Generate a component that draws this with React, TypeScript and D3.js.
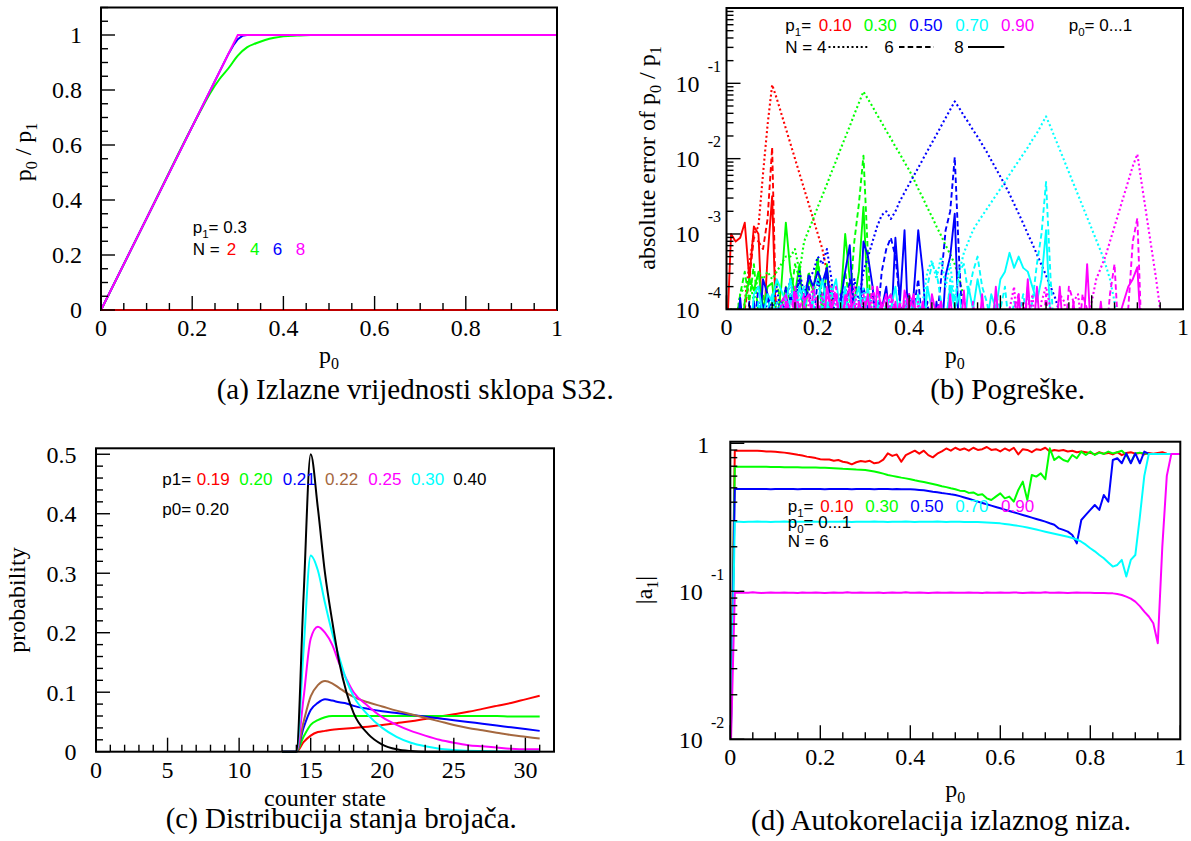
import React from 'react';
import * as d3 from 'd3';

const SERIF = "'Liberation Serif', 'Times New Roman', Times, serif";
const SANS = "'Liberation Sans', Arial, Helvetica, sans-serif";

const RED = '#ff0000';
const GREEN = '#00ff00';
const BLUE = '#0000ff';
const CYAN = '#00ffff';
const MAGENTA = '#ff00ff';
const BROWN = '#a5683f';
const BLACK = '#000000';

// ---------------- (a) Izlazne vrijednosti ----------------
const A_TICKS = [0, 0.2, 0.4, 0.6, 0.8, 1];
const A_TICK_LABELS = ['0', '0.2', '0.4', '0.6', '0.8', '1'];
const A_N_LABELS = ['2', '4', '6', '8'];
const A_N2_P0 = [0, 1];
const A_N2_RATIO = [0, 0];
const A_N4_P0 = [0, 0.1, 0.2, 0.22, 0.24, 0.26, 0.28, 0.3, 0.32, 0.34, 0.36, 0.38, 0.4, 0.43, 0.46, 0.5, 1];
const A_N4_RATIO = [0, 0.333, 0.667, 0.73, 0.79, 0.84, 0.88, 0.925, 0.955, 0.97, 0.982, 0.99, 0.995, 0.998, 1, 1, 1];
const A_N6_P0 = [0, 0.28, 0.29, 0.3, 0.31, 0.32, 1];
const A_N6_RATIO = [0, 0.933, 0.962, 0.985, 0.997, 1, 1];
const A_N8_P0 = [0, 0.3, 1];
const A_N8_RATIO = [0, 1, 1];

// ---------------- (b) Pogreske: log10(abs error), p0 = index * 0.01 ----------------
const B_STEP = 0.01;
const B_P1_LABELS = ['0.10', '0.30', '0.50', '0.70', '0.90'];
const B_N4_P10 = [-4.5, -4.5, -4.5, -4.5, -3.9, -3.4, -3.0, -2.9, -2.2, -1.55,
  -1.02, -1.2, -1.4, -1.6, -1.8, -2.0, -2.2, -2.4, -2.6, -2.8,
  -3.0, -3.2, -3.5, -3.8, -4.5];
const B_N6_P10 = [-4.5, -4.5, -4.2, -4.5, -4.0, -3.6, -3.05, -3.1, -3.2, -2.8, -1.85, -4.5, -4.5];
const B_N8_P10 = [-4.5, -3.0, -3.1, -3.05, -2.85, -3.6, -2.9, -3.0, -4.4, -3.3, -2.5, -4.5, -4.5];
const B_N4_P30 = [-4.5, -4.0, -4.2, -3.8, -3.7, -3.6, -3.9, -3.5, -3.6, -3.5,
  -3.6, -3.5, -3.4, -3.3, -3.3, -3.2, -3.5, -3.1, -2.95, -2.8,
  -2.64, -2.49, -2.34, -2.18, -2.03, -1.87, -1.72, -1.57, -1.41, -1.26,
  -1.11, -1.21, -1.31, -1.42, -1.52, -1.63, -1.73, -1.84, -1.94, -2.05,
  -2.15, -2.27, -2.4, -2.52, -2.65, -2.77, -2.9, -3.02, -3.15, -3.27,
  -3.4, -3.6, -3.85, -4.2, -4.5];
const B_N6_P30 = [-4.5, -4.5, -4.2, -3.8, -3.5, -3.9, -3.4, -4.1, -3.8, -4.5,
  -3.9, -3.6, -4.0, -3.7, -3.9, -3.4, -3.6, -4.0, -3.5, -3.8,
  -3.3, -3.9, -4.2, -3.7, -4.5, -3.8, -3.5, -3.9, -3.1, -2.6,
  -1.96, -3.3, -4.5];
const B_N8_P30 = [-4.5, -4.1, -4.5, -4.5, -3.9, -3.6, -3.75, -3.5, -4.0, -3.7,
  -3.65, -4.2, -3.7, -2.85, -3.5, -3.8, -3.4, -4.2, -3.6, -3.75,
  -3.35, -4.1, -3.4, -4.3, -4.5, -3.9, -3.0, -3.6, -3.9, -3.5,
  -2.64, -3.9, -4.5];
const B_N4_P50 = [-4.5, -4.5, -4.5, -4.5, -4.5, -4.5, -4.2, -3.9, -4.3, -3.8,
  -4.0, -3.7, -4.1, -3.9, -3.6, -4.0, -3.5, -3.8, -3.6, -3.5,
  -3.3, -3.4, -3.2, -3.6, -4.3, -4.0, -3.7, -4.1, -3.6, -3.9,
  -3.5, -3.3, -3.1, -2.9, -2.75, -2.7, -2.8, -2.7, -2.56, -2.45,
  -2.34, -2.23, -2.12, -2.01, -1.9, -1.79, -1.68, -1.57, -1.46, -1.35,
  -1.24, -1.33, -1.43, -1.52, -1.62, -1.71, -1.81, -1.91, -2.02, -2.13,
  -2.24, -2.35, -2.47, -2.6, -2.73, -2.86, -3.0, -3.13, -3.27, -3.41,
  -3.55, -3.7, -3.85, -4.05, -4.5];
const B_N6_P50 = [-4.5, -4.5, -4.5, -4.2, -4.5, -3.9, -4.3, -3.7, -4.0, -3.8,
  -4.4, -3.9, -4.1, -3.7, -4.3, -3.8, -3.6, -4.0, -3.7, -4.2,
  -3.6, -3.9, -3.5, -4.0, -4.4, -3.8, -4.1, -3.6, -3.9, -4.5,
  -3.7, -4.0, -3.8, -4.2, -3.5, -3.2, -3.05, -3.3, -3.9, -4.2,
  -3.8, -4.0, -3.6, -4.3, -3.9, -4.5, -4.2, -3.6, -2.95, -2.7,
  -1.98, -3.4, -4.5];
const B_N8_P50 = [-4.5, -4.5, -4.5, -3.85, -4.5, -4.5, -3.9, -4.5, -3.6, -3.8,
  -4.2, -4.5, -3.9, -4.4, -3.8, -4.0, -3.7, -3.9, -3.55, -3.7,
  -3.5, -3.65, -3.45, -4.1, -4.5, -3.9, -3.5, -3.15, -4.2, -4.4,
  -3.1, -3.3, -3.7, -4.4, -4.0, -3.7, -4.3, -3.05, -3.9, -2.95,
  -4.5, -3.8, -2.95, -3.5, -4.5, -4.5, -3.9, -4.5, -3.55, -3.3,
  -2.73, -4.5];
const B_N4_P70 = [-4.5, -4.5, -4.5, -4.5, -4.5, -4.5, -4.5, -4.5, -4.5, -4.5,
  -4.2, -3.9, -4.5, -3.8, -4.0, -4.5, -3.7, -3.9, -4.4, -3.8,
  -3.6, -4.0, -3.7, -4.5, -3.9, -4.2, -3.8, -4.5, -3.9, -4.1,
  -3.7, -4.5, -4.0, -3.8, -4.3, -4.5, -3.9, -4.1, -4.5, -3.8,
  -4.2, -4.5, -4.5, -3.9, -3.5, -3.35, -3.6, -3.3, -3.7, -3.4,
  -3.9, -3.5, -3.25, -3.1, -2.95, -2.85, -2.76, -2.67, -2.58, -2.49,
  -2.4, -2.31, -2.21, -2.12, -2.03, -1.94, -1.85, -1.75, -1.66, -1.55,
  -1.44, -1.58, -1.73, -1.88, -2.03, -2.18, -2.33, -2.48, -2.63, -2.78,
  -2.93, -3.08, -3.23, -3.4, -3.6, -3.9, -4.5];
const B_N6_P70 = [-4.5, -4.5, -4.5, -4.5, -4.5, -4.2, -4.5, -3.9, -4.3, -4.0,
  -3.8, -4.2, -3.9, -4.4, -3.8, -4.1, -3.9, -3.7, -4.2, -3.9,
  -4.5, -3.8, -4.0, -3.7, -4.3, -3.9, -4.1, -3.8, -4.4, -3.9,
  -4.0, -3.7, -4.2, -3.9, -4.5, -4.0, -3.8, -4.2, -3.9, -4.4,
  -3.8, -4.1, -3.9, -4.5, -3.7, -3.4, -3.5, -3.9, -4.3, -3.6,
  -3.9, -3.5, -3.4, -3.8, -3.5, -3.3, -3.7, -3.9, -4.2, -3.8,
  -4.0, -3.7, -4.3, -3.9, -4.1, -3.8, -4.2, -3.9, -3.4, -3.0,
  -2.31, -3.6, -4.5];
const B_N8_P70 = [-4.5, -4.5, -4.5, -4.5, -4.0, -4.5, -3.8, -3.7, -4.1, -3.8,
  -3.9, -3.6, -3.75, -3.9, -3.6, -4.0, -3.7, -3.9, -4.3, -3.8,
  -3.9, -3.6, -4.0, -3.8, -3.6, -4.1, -3.7, -4.3, -3.9, -3.7,
  -4.2, -3.8, -4.1, -3.9, -4.3, -3.9, -4.0, -3.7, -4.2, -3.9,
  -4.5, -4.0, -3.8, -4.3, -3.7, -4.0, -4.5, -3.9, -4.2, -3.7,
  -4.0, -3.8, -4.3, -3.7, -4.0, -3.6, -3.9, -4.2, -3.8, -4.0,
  -3.6, -3.5, -3.25, -3.45, -3.3, -3.45, -3.5, -3.7, -3.9, -3.6,
  -2.95, -4.2, -4.5];
const B_N4_P90 = [-4.5, -4.5, -4.5, -4.5, -4.5, -4.5, -4.5, -4.5, -4.5, -4.5,
  -4.5, -4.5, -4.0, -3.8, -4.2, -3.75, -4.0, -4.5, -3.9, -3.7,
  -4.1, -3.8, -4.3, -3.7, -3.9, -4.5, -3.8, -4.0, -3.7, -4.2,
  -3.9, -4.5, -3.8, -4.1, -3.9, -4.5, -3.8, -4.0, -4.5, -3.9,
  -4.2, -4.5, -3.9, -4.5, -4.1, -4.5, -4.5, -3.9, -4.5, -4.5,
  -4.5, -4.0, -4.5, -4.5, -4.5, -4.5, -4.5, -4.5, -4.5, -4.5,
  -4.5, -4.5, -4.0, -3.7, -4.5, -3.9, -4.3, -3.8, -4.5, -3.9,
  -3.7, -4.0, -4.2, -3.8, -3.9, -4.5, -3.9, -3.8, -4.3, -4.1,
  -3.9, -3.6, -3.45, -3.3, -3.1, -2.9, -2.7, -2.5, -2.3, -2.1,
  -1.94, -2.35, -2.75, -3.15, -3.55, -4.0, -4.5];
const B_N6_P90 = [-4.5, -4.5, -4.5, -4.5, -4.5, -4.5, -4.5, -4.5, -4.5, -4.5,
  -4.5, -4.5, -3.9, -3.8, -4.1, -3.7, -4.0, -3.8, -4.5, -3.75,
  -3.9, -4.2, -3.8, -4.0, -3.7, -4.3, -3.8, -4.0, -3.9, -4.4,
  -3.8, -4.1, -3.7, -4.0, -4.5, -3.9, -3.8, -4.2, -3.9, -4.5,
  -3.8, -4.0, -4.5, -3.9, -4.2, -4.5, -4.0, -3.9, -4.5, -4.5,
  -4.2, -4.5, -4.5, -4.5, -3.9, -4.5, -4.5, -4.5, -4.5, -4.5,
  -4.5, -4.5, -4.5, -4.0, -3.8, -4.5, -3.7, -4.5, -4.0, -4.5,
  -3.8, -4.5, -4.0, -4.5, -4.5, -3.7, -3.9, -4.5, -3.8, -4.0,
  -4.5, -4.5, -4.0, -4.5, -3.8, -3.4, -4.5, -4.5, -4.0, -3.1,
  -2.79, -4.5];
const B_N8_P90 = [-4.5, -4.5, -4.5, -4.5, -4.5, -4.5, -4.5, -4.5, -4.5, -4.5,
  -4.5, -4.0, -4.5, -3.9, -4.3, -3.8, -4.5, -3.9, -3.8, -4.2,
  -3.9, -4.5, -3.7, -4.0, -3.8, -4.3, -3.9, -3.7, -4.4, -3.9,
  -4.1, -3.8, -4.5, -3.7, -4.0, -3.8, -4.3, -3.9, -4.5, -3.75,
  -4.0, -3.8, -4.4, -3.9, -4.5, -3.8, -4.1, -3.9, -4.5, -3.8,
  -4.5, -4.5, -3.75, -4.5, -4.0, -4.5, -3.8, -4.5, -4.5, -3.7,
  -4.5, -4.5, -4.0, -4.5, -3.8, -4.5, -3.6, -4.5, -3.7, -4.5,
  -4.5, -4.0, -4.5, -3.7, -4.5, -4.5, -3.9, -4.5, -4.5, -3.4,
  -4.5, -4.5, -3.9, -4.5, -4.5, -4.5, -4.1, -3.9, -3.7, -3.6,
  -3.44, -4.5];

// ---------------- (c) Distribucija stanja brojaca ----------------
const C_X_TICKS = [0, 5, 10, 15, 20, 25, 30];
const C_Y_TICKS = [0, 0.1, 0.2, 0.3, 0.4, 0.5];
const C_Y_LABELS = ['0', '0.1', '0.2', '0.3', '0.4', '0.5'];
const C_P1_LABELS = ['0.19', '0.20', '0.21', '0.22', '0.25', '0.30', '0.40'];
const C_STATE = [13, 14, 14.5, 15, 15.5, 16, 16.5, 17, 17.5, 18, 19, 20, 21, 22, 23, 24, 25, 26, 27, 28, 29, 30, 31];
const C_P019 = [0, 0, 0.016, 0.027, 0.033, 0.035, 0.037, 0.038, 0.039, 0.04, 0.042, 0.045, 0.048, 0.051, 0.055, 0.059, 0.063, 0.067, 0.072, 0.077, 0.082, 0.088, 0.094];
const C_P020 = [0, 0, 0.025, 0.045, 0.053, 0.058, 0.06, 0.06, 0.06, 0.06, 0.06, 0.06, 0.06, 0.06, 0.06, 0.06, 0.06, 0.06, 0.06, 0.06, 0.059, 0.059, 0.059];
const C_P021 = [0, 0, 0.04, 0.07, 0.082, 0.088, 0.086, 0.083, 0.081, 0.077, 0.072, 0.068, 0.065, 0.062, 0.059, 0.056, 0.053, 0.05, 0.047, 0.044, 0.041, 0.038, 0.035];
const C_P022 = [0, 0, 0.05, 0.093, 0.112, 0.119, 0.115, 0.107, 0.099, 0.092, 0.083, 0.076, 0.069, 0.063, 0.057, 0.051, 0.045, 0.04, 0.036, 0.032, 0.028, 0.025, 0.022];
const C_P025 = [0, 0, 0.09, 0.19, 0.21, 0.2, 0.18, 0.148, 0.122, 0.1, 0.077, 0.058, 0.045, 0.035, 0.027, 0.02, 0.015, 0.011, 0.009, 0.007, 0.005, 0.004, 0.004];
const C_P030 = [0, 0, 0.17, 0.33, 0.305, 0.25, 0.2, 0.158, 0.12, 0.093, 0.062, 0.04, 0.025, 0.015, 0.009, 0.005, 0.003, 0.0015, 0.001, 0.0005, 0, 0, 0];
const C_P040 = [0, 0, 0.26, 0.5, 0.41, 0.3, 0.22, 0.15, 0.1, 0.065, 0.03, 0.012, 0.004, 0.001, 0, 0, 0, 0, 0, 0, 0, 0, 0];

// ---------------- (d) Autokorelacija: log10|a1|, p0 = index * 0.01 ----------------
const D_STEP = 0.01;
const D_P10 = [-2.2,
  -0.05, -0.05, -0.05, -0.05, -0.05, -0.05, -0.052, -0.055, -0.055, -0.057,
  -0.06, -0.063, -0.067, -0.072, -0.078, -0.083, -0.09, -0.095, -0.1, -0.108,
  -0.11, -0.11, -0.118, -0.113, -0.125, -0.13, -0.142, -0.128, -0.12, -0.124,
  -0.118, -0.135, -0.13, -0.11, -0.068, -0.085, -0.075, -0.125, -0.08, -0.065,
  -0.05, -0.07, -0.05, -0.08, -0.095, -0.07, -0.055, -0.035, -0.05, -0.03,
  -0.045, -0.035, -0.05, -0.03, -0.045, -0.04, -0.025, -0.045, -0.04, -0.055,
  -0.035, -0.05, -0.03, -0.075, -0.04, -0.045, -0.06, -0.04, -0.045, -0.03,
  -0.055, -0.045, -0.05, -0.045, -0.055, -0.05, -0.06, -0.055, -0.06, -0.065,
  -0.075, -0.06, -0.07, -0.065, -0.075, -0.06, -0.08, -0.065, -0.06, -0.07,
  -0.065, -0.075, -0.065, -0.07, -0.065, -0.06, -0.07, -0.072, -0.072, -0.072];
const D_P30 = [-2.2,
  -0.158, -0.158, -0.158, -0.158, -0.158, -0.158, -0.159, -0.159, -0.16, -0.16,
  -0.16, -0.161, -0.161, -0.162, -0.162, -0.163, -0.163, -0.164, -0.164, -0.165,
  -0.166, -0.167, -0.168, -0.17, -0.172, -0.173, -0.175, -0.177, -0.178, -0.18,
  -0.185, -0.19, -0.197, -0.205, -0.214, -0.22, -0.226, -0.232, -0.237, -0.243,
  -0.25, -0.256, -0.262, -0.268, -0.275, -0.282, -0.29, -0.296, -0.304, -0.311,
  -0.32, -0.322, -0.335, -0.332, -0.349, -0.345, -0.372, -0.383, -0.36, -0.338,
  -0.372, -0.36, -0.394, -0.315, -0.259, -0.383, -0.214, -0.225, -0.203, -0.243,
  -0.034, -0.113, -0.09, -0.113, -0.124, -0.079, -0.101, -0.056, -0.079, -0.056,
  -0.079, -0.063, -0.072, -0.056, -0.068, -0.06, -0.05, -0.079, -0.131, -0.068,
  -0.063, -0.068, -0.072, -0.072, -0.072, -0.072, -0.072, -0.072, -0.072, -0.072];
const D_P50 = [-2.2,
  -0.309, -0.309, -0.308, -0.309, -0.309, -0.308, -0.309, -0.309, -0.31, -0.309,
  -0.309, -0.308, -0.309, -0.309, -0.31, -0.309, -0.308, -0.309, -0.309, -0.309,
  -0.31, -0.309, -0.309, -0.308, -0.309, -0.309, -0.31, -0.309, -0.309, -0.309,
  -0.309, -0.31, -0.309, -0.309, -0.309, -0.31, -0.309, -0.31, -0.31, -0.311,
  -0.312, -0.315, -0.318, -0.322, -0.327, -0.331, -0.336, -0.34, -0.345, -0.349,
  -0.357, -0.366, -0.375, -0.384, -0.394, -0.403, -0.412, -0.421, -0.43, -0.439,
  -0.448, -0.457, -0.466, -0.475, -0.484, -0.493, -0.502, -0.511, -0.52, -0.529,
  -0.54, -0.55, -0.575, -0.585, -0.597, -0.62, -0.676, -0.518, -0.484, -0.45,
  -0.417, -0.45, -0.349, -0.394, -0.113, -0.101, -0.135, -0.068, -0.135, -0.068,
  -0.135, -0.056, -0.072, -0.072, -0.072, -0.072, -0.072, -0.072, -0.072, -0.072];
const D_P70 = [-2.2,
  -0.53, -0.53, -0.531, -0.53, -0.53, -0.529, -0.53, -0.53, -0.531, -0.53,
  -0.53, -0.529, -0.53, -0.531, -0.53, -0.53, -0.53, -0.529, -0.53, -0.53,
  -0.531, -0.53, -0.53, -0.53, -0.529, -0.53, -0.531, -0.53, -0.53, -0.53,
  -0.53, -0.529, -0.53, -0.53, -0.531, -0.53, -0.53, -0.53, -0.529, -0.53,
  -0.531, -0.53, -0.53, -0.53, -0.53, -0.529, -0.53, -0.531, -0.53, -0.53,
  -0.53, -0.531, -0.531, -0.532, -0.532, -0.533, -0.535, -0.537, -0.539, -0.541,
  -0.545, -0.549, -0.553, -0.558, -0.563, -0.569, -0.576, -0.583, -0.59, -0.597,
  -0.604, -0.611, -0.618, -0.625, -0.632, -0.64, -0.65, -0.665, -0.685, -0.709,
  -0.73, -0.755, -0.777, -0.805, -0.833, -0.822, -0.788, -0.9, -0.788, -0.755,
  -0.5, -0.22, -0.072, -0.072, -0.072, -0.072, -0.072, -0.072, -0.072, -0.072];
const D_P90 = [-2.2,
  -1.009, -1.008, -1.01, -1.009, -1.007, -1.009, -1.011, -1.009, -1.008, -1.01,
  -1.009, -1.008, -1.01, -1.009, -1.011, -1.008, -1.009, -1.01, -1.008, -1.009,
  -1.011, -1.009, -1.008, -1.01, -1.009, -1.007, -1.009, -1.01, -1.008, -1.009,
  -1.01, -1.009, -1.008, -1.011, -1.009, -1.008, -1.01, -1.009, -1.007, -1.009,
  -1.01, -1.008, -1.009, -1.011, -1.009, -1.008, -1.01, -1.009, -1.008, -1.009,
  -1.01, -1.009, -1.008, -1.01, -1.009, -1.011, -1.008, -1.009, -1.01, -1.008,
  -1.009, -1.01, -1.008, -1.009, -1.011, -1.009, -1.008, -1.01, -1.009, -1.007,
  -1.009, -1.01, -1.008, -1.009, -1.011, -1.009, -1.008, -1.01, -1.009, -1.01,
  -1.011, -1.012, -1.012, -1.013, -1.014, -1.018, -1.025, -1.036, -1.05, -1.07,
  -1.1, -1.137, -1.17, -1.216, -1.351, -0.7, -0.22, -0.072, -0.072, -0.072];

const DOTTED = '2,2.6';
const DASHED = '5.5,3.2';
const TICK_MAJOR = 14;
const TICK_MINOR = 7;

function stepValues(n: number, step: number) {
  return d3.range(n + 1).map((i) => +(i * step).toFixed(6));
}

function XTickMarks({ scale, majors, minors, y0 }: any) {
  return (
    <g stroke="#000" strokeWidth={1.4}>
      {minors.map((v: number, i: number) => (
        <line key={'n' + i} x1={scale(v)} x2={scale(v)} y1={y0} y2={y0 - TICK_MINOR} />
      ))}
      {majors.map((v: number, i: number) => (
        <line key={'j' + i} x1={scale(v)} x2={scale(v)} y1={y0} y2={y0 - TICK_MAJOR} />
      ))}
    </g>
  );
}

function YTickMarks({ scale, majors, minors, x0 }: any) {
  return (
    <g stroke="#000" strokeWidth={1.4}>
      {minors.map((v: number, i: number) => (
        <line key={'n' + i} x1={x0} x2={x0 + TICK_MINOR} y1={scale(v)} y2={scale(v)} />
      ))}
      {majors.map((v: number, i: number) => (
        <line key={'j' + i} x1={x0} x2={x0 + TICK_MAJOR} y1={scale(v)} y2={scale(v)} />
      ))}
    </g>
  );
}

export default function App() {
  // scales
  const ax = d3.scaleLinear().domain([0, 1]).range([101, 557]);
  const ay = d3.scaleLinear().domain([0, 1.1]).range([310, 7.5]);
  const bx = d3.scaleLinear().domain([0, 1]).range([726.5, 1183]);
  const by = d3.scaleLog().domain([1e-4, 1]).range([309.3, 8]);
  const cx = d3.scaleLinear().domain([0, 32]).range([96, 554]);
  const cy = d3.scaleLinear().domain([0, 0.51]).range([751.7, 448.3]);
  const dx = d3.scaleLinear().domain([0, 1]).range([730.3, 1180.3]);
  const dy = d3.scaleLog().domain([0.01, Math.pow(10, 0.0108)]).range([739.3, 441.7]);

  const fifths = stepValues(20, 0.05);
  const p0Minor = fifths.filter((_, i) => i % 4 !== 0);
  const aYMinor = stepValues(22, 0.05).filter((_, i) => i % 4 !== 0);
  const cXMinor = d3.range(0, 33).filter((v) => v % 5 !== 0);
  const cYMinor = stepValues(25, 0.02).filter((_, i) => i % 5 !== 0);
  const logMinor = (k0: number, k1: number) => {
    const out: number[] = [];
    for (let k = k0; k <= k1; k++) for (let m = 2; m <= 9; m++) out.push(m * Math.pow(10, k));
    return out;
  };
  const bMajors = [1e-4, 1e-3, 1e-2, 1e-1, 1];
  const dMajors = [1e-2, 1e-1, 1];

  // line generators
  const aLine = d3.line<[number, number]>().x((d) => ax(d[0])).y((d) => ay(d[1]));
  const aSmooth = d3.line<[number, number]>().x((d) => ax(d[0])).y((d) => ay(d[1])).curve(d3.curveMonotoneX);
  const zip = (xs: number[], ys: number[]) => xs.map((x, i) => [x, ys[i]] as [number, number]);
  const bLine = d3.line<number>().x((_, i) => bx(i * B_STEP)).y((v) => by(Math.pow(10, v)));
  const cLine = d3.line<[number, number]>().x((d) => cx(d[0])).y((d) => cy(d[1])).curve(d3.curveMonotoneX);
  const dLine = d3.line<number>().x((_, i) => dx(i * D_STEP)).y((v) => dy(Math.pow(10, v)));

  const bColors = [RED, GREEN, BLUE, CYAN, MAGENTA];
  const bSeries = [
    [B_N4_P10, B_N6_P10, B_N8_P10],
    [B_N4_P30, B_N6_P30, B_N8_P30],
    [B_N4_P50, B_N6_P50, B_N8_P50],
    [B_N4_P70, B_N6_P70, B_N8_P70],
    [B_N4_P90, B_N6_P90, B_N8_P90],
  ];
  const bDash = [DOTTED, DASHED, undefined];

  const cSeries = [
    { y: C_P019, c: RED },
    { y: C_P020, c: GREEN },
    { y: C_P021, c: BLUE },
    { y: C_P022, c: BROWN },
    { y: C_P025, c: MAGENTA },
    { y: C_P030, c: CYAN },
    { y: C_P040, c: BLACK },
  ];
  const cLegendX = [196.7, 239.3, 282.7, 325, 368.3, 411, 453.3];
  const cColors = [RED, GREEN, BLUE, BROWN, MAGENTA, CYAN, BLACK];

  const dSeries = [
    { y: D_P10, c: RED },
    { y: D_P30, c: GREEN },
    { y: D_P50, c: BLUE },
    { y: D_P70, c: CYAN },
    { y: D_P90, c: MAGENTA },
  ];

  const p1LegendXB = [818.7, 863.7, 909.3, 955.3, 1001];
  const p1LegendXD = [820.3, 865.3, 910.3, 955.3, 1001];
  const aNLegendX = [226.7, 250, 272.7, 295.7];
  const aNColors = [RED, GREEN, BLUE, MAGENTA];

  return (
    <svg
      width={1191}
      height={841}
      viewBox="0 0 1191 841"
      style={{ position: 'absolute', left: 0, top: 0, background: '#ffffff' }}
    >
      <rect x={0} y={0} width={1191} height={841} fill="#ffffff" />
      <defs>
        <clipPath id="clipB">
          <rect x={726.5} y={8} width={456.5} height={301.3} />
        </clipPath>
        <clipPath id="clipD">
          <rect x={730.3} y={441.7} width={450} height={297.6} />
        </clipPath>
      </defs>

      {/* ================= (a) ================= */}
      <g>
        <path d={aSmooth(zip(A_N4_P0, A_N4_RATIO)) || ''} fill="none" stroke={GREEN} strokeWidth={2} />
        <path d={aLine(zip(A_N6_P0, A_N6_RATIO)) || ''} fill="none" stroke={BLUE} strokeWidth={2} />
        <path d={aLine(zip(A_N8_P0, A_N8_RATIO)) || ''} fill="none" stroke={MAGENTA} strokeWidth={2} />
        <rect x={101} y={7.5} width={456} height={302.5} fill="none" stroke="#000" strokeWidth={2} />
        <path d={aLine(zip(A_N2_P0, A_N2_RATIO)) || ''} fill="none" stroke={RED} strokeOpacity={0.75} strokeWidth={2.2} />
        <XTickMarks scale={ax} majors={A_TICKS} minors={p0Minor} y0={310} />
        <YTickMarks scale={ay} majors={A_TICKS} minors={aYMinor} x0={101} />
        <g fontFamily={SERIF} fontSize={24} fill="#000">
          {A_TICKS.map((v, i) => (
            <text key={'ax' + i} x={ax(v)} y={336} textAnchor="middle">{A_TICK_LABELS[i]}</text>
          ))}
          {A_TICKS.map((v, i) => (
            <text key={'ay' + i} x={82} y={ay(v) + 8} textAnchor="end">{A_TICK_LABELS[i]}</text>
          ))}
          <text x={329} y={363} textAnchor="middle">
            p<tspan fontSize={16} dy={6}>0</tspan>
          </text>
          <text transform="translate(31,152) rotate(-90)" textAnchor="middle">
            p<tspan fontSize={16} dy={6}>0</tspan><tspan dy={-6}> / p</tspan><tspan fontSize={16} dy={6}>1</tspan>
          </text>
        </g>
        <g fontFamily={SANS} fontSize={17} fill="#000">
          <text x={192.7} y={233.3}>
            p<tspan fontSize={11.5} dy={5}>1</tspan><tspan dy={-5}>= 0.3</tspan>
          </text>
          <text x={192.7} y={255}>N =</text>
          {A_N_LABELS.map((t, i) => (
            <text key={'an' + i} x={aNLegendX[i]} y={255} fill={aNColors[i]}>{t}</text>
          ))}
        </g>
        <text x={216.7} y={398.5} fontFamily={SERIF} fontSize={29}>(a) Izlazne vrijednosti sklopa S32.</text>
      </g>

      {/* ================= (b) ================= */}
      <g>
        <g clipPath="url(#clipB)">
          {bSeries.map((set, ci) =>
            set.map((vals, si) => (
              <path
                key={'b' + ci + '-' + si}
                d={bLine(vals) || ''}
                fill="none"
                stroke={bColors[ci]}
                strokeWidth={si === 0 ? 2.1 : 1.9}
                strokeDasharray={bDash[si]}
                strokeLinejoin="round"
              />
            ))
          )}
        </g>
        <rect x={726.5} y={8} width={456.5} height={301.3} fill="none" stroke="#000" strokeWidth={2} />
        <XTickMarks scale={bx} majors={A_TICKS} minors={p0Minor} y0={309.3} />
        <YTickMarks scale={by} majors={bMajors} minors={logMinor(-4, -1)} x0={726.5} />
        <g fontFamily={SERIF} fill="#000">
          {A_TICKS.map((v, i) => (
            <text key={'bx' + i} x={bx(v)} y={335} fontSize={24} textAnchor="middle">{A_TICK_LABELS[i]}</text>
          ))}
          {[1e-4, 1e-3, 1e-2, 1e-1].map((v) => (
            <g key={'by' + v}>
              <text x={699.5} y={by(v) + 8.5} fontSize={24} textAnchor="end">10</text>
              <text x={707.7} y={by(v) - 11.6} fontSize={16}>{String(Math.round(Math.log10(v)))}</text>
            </g>
          ))}
          <text x={954.7} y={363} fontSize={24} textAnchor="middle">
            p<tspan fontSize={16} dy={6}>0</tspan>
          </text>
          <text transform="translate(655,158) rotate(-90)" fontSize={24} textAnchor="middle">
            absolute error of p<tspan fontSize={16} dy={6}>0</tspan><tspan dy={-6}> / p</tspan><tspan fontSize={16} dy={6}>1</tspan>
          </text>
        </g>
        <g fontFamily={SANS} fontSize={17} fill="#000">
          <text x={785.3} y={30.7}>
            p<tspan fontSize={11.5} dy={5}>1</tspan><tspan dy={-5}>=</tspan>
          </text>
          {B_P1_LABELS.map((t, i) => (
            <text key={'bl' + i} x={p1LegendXB[i]} y={30.7} fill={bColors[i]}>{t}</text>
          ))}
          <text x={1068.7} y={30.7}>
            p<tspan fontSize={11.5} dy={5}>0</tspan><tspan dy={-5}>= 0...1</tspan>
          </text>
          <text x={785.3} y={53.3}>N = 4</text>
          <text x={884.3} y={53.3}>6</text>
          <text x={954.3} y={53.3}>8</text>
        </g>
        <line x1={828.5} x2={867.7} y1={47} y2={47} stroke="#000" strokeWidth={2} strokeDasharray={DOTTED} />
        <line x1={899} x2={934} y1={47} y2={47} stroke="#000" strokeWidth={2} strokeDasharray={DASHED} />
        <line x1={968} x2={1004.3} y1={47} y2={47} stroke="#000" strokeWidth={2} />
        <text x={930.3} y={398.5} fontFamily={SERIF} fontSize={29}>(b) Pogreške.</text>
      </g>

      {/* ================= (c) ================= */}
      <g>
        {cSeries.map((s, i) => (
          <path key={'c' + i} d={cLine(zip(C_STATE, s.y)) || ''} fill="none" stroke={s.c} strokeWidth={2} />
        ))}
        <rect x={96} y={448.3} width={458} height={303.4} fill="none" stroke="#000" strokeWidth={2} />
        <XTickMarks scale={cx} majors={C_X_TICKS} minors={cXMinor} y0={751.7} />
        <YTickMarks scale={cy} majors={C_Y_TICKS} minors={cYMinor} x0={96} />
        <g fontFamily={SERIF} fontSize={24} fill="#000">
          {C_X_TICKS.map((v) => (
            <text key={'cx' + v} x={cx(v)} y={778} textAnchor="middle">{String(v)}</text>
          ))}
          {C_Y_TICKS.map((v, i) => (
            <text key={'cy' + i} x={76.5} y={cy(v) + 8.5} textAnchor="end">{C_Y_LABELS[i]}</text>
          ))}
          <text x={325} y={806} textAnchor="middle">counter state</text>
          <text transform="translate(24.7,600) rotate(-90)" textAnchor="middle">probability</text>
        </g>
        <g fontFamily={SANS} fontSize={17} fill="#000">
          <text x={162.3} y={485}>p1=</text>
          {C_P1_LABELS.map((t, i) => (
            <text key={'cl' + i} x={cLegendX[i]} y={485} fill={cColors[i]}>{t}</text>
          ))}
          <text x={162.3} y={515}>p0= 0.20</text>
        </g>
        <text x={165.7} y={828} fontFamily={SERIF} fontSize={29}>(c) Distribucija stanja brojača.</text>
      </g>

      {/* ================= (d) ================= */}
      <g>
        <g clipPath="url(#clipD)">
          {dSeries.map((s, i) => (
            <path key={'d' + i} d={dLine(s.y) || ''} fill="none" stroke={s.c} strokeWidth={2} strokeLinejoin="round" />
          ))}
        </g>
        <rect x={730.3} y={441.7} width={450} height={297.6} fill="none" stroke="#000" strokeWidth={2} />
        <XTickMarks scale={dx} majors={A_TICKS} minors={p0Minor} y0={739.3} />
        <YTickMarks scale={dy} majors={dMajors} minors={logMinor(-2, -1)} x0={730.3} />
        <g fontFamily={SERIF} fill="#000">
          {A_TICKS.map((v, i) => (
            <text key={'dx' + i} x={dx(v)} y={765} fontSize={24} textAnchor="middle">{A_TICK_LABELS[i]}</text>
          ))}
          <text x={709.3} y={dy(1) + 9.4} fontSize={24} textAnchor="end">1</text>
          {[1e-2, 1e-1].map((v) => (
            <g key={'dy' + v}>
              <text x={702.7} y={dy(v) + 8.7} fontSize={24} textAnchor="end">10</text>
              <text x={711} y={dy(v) - 11.3} fontSize={16}>{String(Math.round(Math.log10(v)))}</text>
            </g>
          ))}
          <text x={955.3} y={797} fontSize={24} textAnchor="middle">
            p<tspan fontSize={16} dy={6}>0</tspan>
          </text>
          <text transform="translate(652,590) rotate(-90)" fontSize={24} textAnchor="middle">
            |a<tspan fontSize={16} dy={6}>1</tspan><tspan dy={-6}>|</tspan>
          </text>
        </g>
        <g fontFamily={SANS} fontSize={17} fill="#000">
          <text x={787.7} y={511.7}>
            p<tspan fontSize={11.5} dy={5}>1</tspan><tspan dy={-5}>=</tspan>
          </text>
          {B_P1_LABELS.map((t, i) => (
            <text key={'dl' + i} x={p1LegendXD[i]} y={511.7} fill={bColors[i]}>{t}</text>
          ))}
          <text x={787.7} y={528.3}>
            p<tspan fontSize={11.5} dy={5}>0</tspan><tspan dy={-5}>= 0...1</tspan>
          </text>
          <text x={787.7} y={547.3}>N = 6</text>
        </g>
        <text x={751} y={830} fontFamily={SERIF} fontSize={29}>(d) Autokorelacija izlaznog niza.</text>
      </g>
    </svg>
  );
}
